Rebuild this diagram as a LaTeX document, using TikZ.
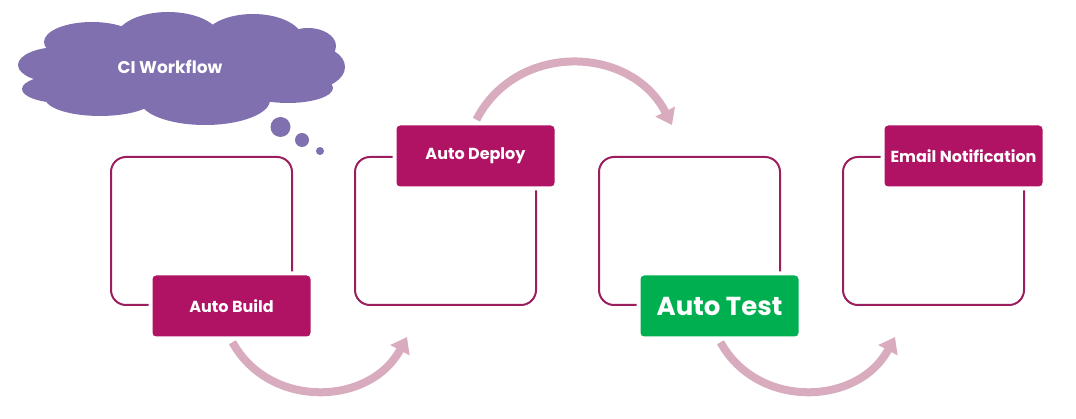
\documentclass[tikz,border=0pt]{standalone}
\usepackage{fontspec}
\setmainfont{Poppins}
\usetikzlibrary{positioning,arrows.meta}

\definecolor{framecol}{RGB}{155,30,95}
\definecolor{stagecol}{RGB}{176,18,100}
\definecolor{testcol}{RGB}{0,176,80}
\definecolor{flowcol}{RGB}{216,172,190}
\definecolor{cloudcol}{RGB}{128,112,176}

\begin{document}
\begin{tikzpicture}[x=1pt,y=-1pt,
        frame/.style = {
            draw=framecol,
            line width=2pt,
            rounded corners=15pt,
            minimum width=181pt,
            minimum height=148pt
        },
        stagebox/.style = {
            fill=stagecol,
            draw=white,
            line width=4pt,
            rounded corners=5pt,
            minimum width=162pt,
            minimum height=65pt,
            text=white,
            font=\bfseries\fontsize{16}{19}\selectfont
        },
        flow/.style = {
            draw=flowcol,
            line width=8pt,
            -{Triangle[length=15pt,width=21pt]}
        },
        bubble/.style = {circle, fill=cloudcol, inner sep=0pt},
        node distance=61pt]

        \useasboundingbox (0,0) rectangle (1076,419);

        % the four steps
        \node[frame] (f1) at (201.5,231) {};
        \node[frame, right=of f1] (f2) {};
        \node[frame, right=of f2] (f3) {};
        \node[frame, right=of f3] (f4) {};

        \node[stagebox] (build) at ([xshift=30pt]f1.south) {Auto Build};
        \node[stagebox] (deploy) at ([xshift=30pt]f2.north) {Auto Deploy};
        \node[stagebox, fill=testcol, font=\bfseries\fontsize{26}{30}\selectfont] (test) at ([xshift=30pt]f3.south) {Auto Test};
        \node[stagebox] (notify) at ([xshift=30pt]f4.north) {Email Notification};

        % thought cloud
        \fill[cloudcol] (180,68) ellipse [x radius=140, y radius=42]
            (60,65) ellipse [x radius=42, y radius=18]
            (62,89) ellipse [x radius=40, y radius=14]
            (92,42) ellipse [x radius=48, y radius=20]
            (168,38) ellipse [x radius=52, y radius=26]
            (253,40) ellipse [x radius=50, y radius=26]
            (308,46) ellipse [x radius=28, y radius=18]
            (310,67) ellipse [x radius=35, y radius=22]
            (288,88) ellipse [x radius=45, y radius=15]
            (205,100) ellipse [x radius=65, y radius=25]
            (100,98) ellipse [x radius=55, y radius=18];
        \node[text=white, font=\bfseries\fontsize{17}{20}\selectfont] (title) at (170,67) {CI Workflow};
        \node[bubble, minimum size=20pt] (b1) at (280.5,127) {};
        \node[bubble, minimum size=14pt] (b2) at (302,140) {};
        \node[bubble, minimum size=8pt] (b3) at (320,151) {};

        % arrows between the steps
        \coordinate (t1) at (407,337);
        \coordinate (t2) at (672,125);
        \coordinate (t3) at (895,337);
        \draw[flow, shorten <=2pt] (build.south) .. controls +(38,69) and +(-37,69) .. (t1);
        \draw[flow, shorten <=2pt] (deploy.north) .. controls +(41,-80) and +(-41,-80) .. (t2);
        \draw[flow, shorten <=2pt] (test.south) .. controls +(38,69) and +(-37,69) .. (t3);
    \end{tikzpicture}
\end{document}
